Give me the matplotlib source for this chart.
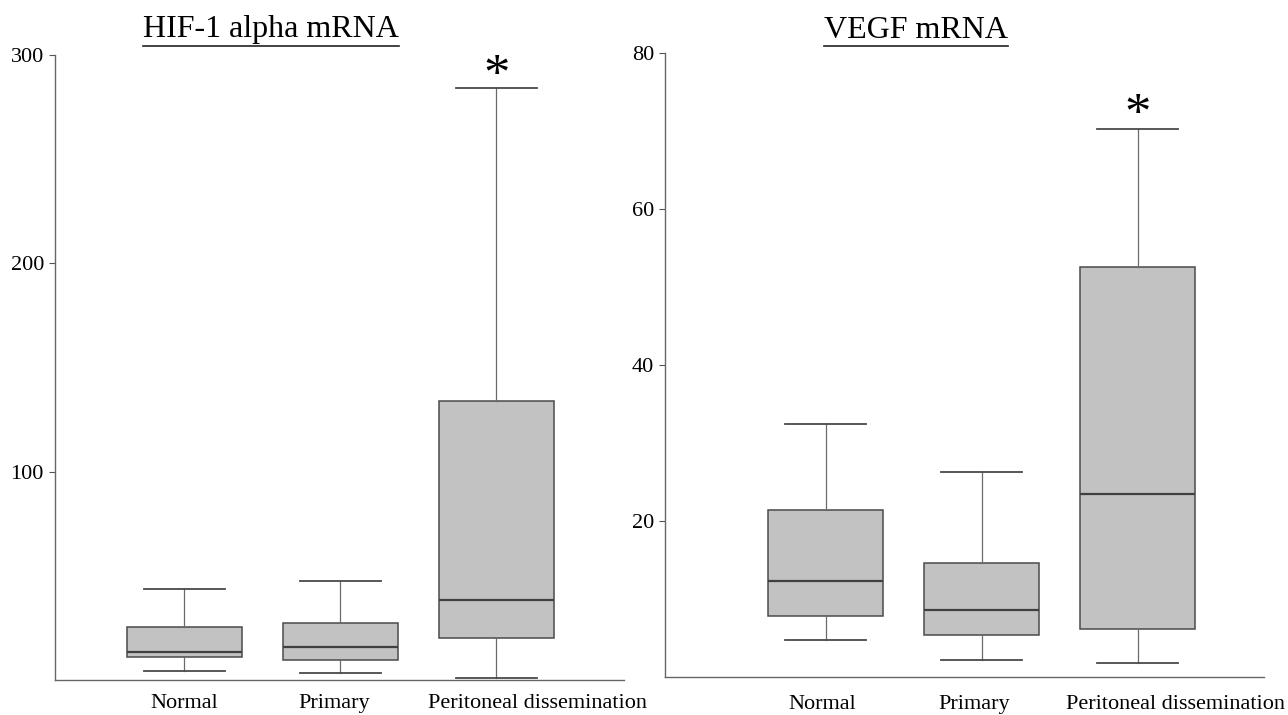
import matplotlib.pyplot as plt
from matplotlib.lines import Line2D
from matplotlib.transforms import ScaledTranslation

plt.rcParams['font.family'] = ['Liberation Serif', 'DejaVu Serif']

# groups and box statistics
groups = ['Normal', 'Primary', 'Peritoneal dissemination']

# HIF-1 alpha mRNA
hif_low = [4.3, 3.4, 1.0]
hif_q1 = [11.0, 9.6, 20.2]
hif_med = [13.4, 15.8, 38.4]
hif_q3 = [25.4, 27.4, 134.0]
hif_high = [43.7, 47.5, 284.0]

# VEGF mRNA
vegf_low = [4.7, 2.2, 1.8]
vegf_q1 = [7.8, 5.4, 6.2]
vegf_med = [12.3, 8.6, 23.5]
vegf_q3 = [21.4, 14.6, 52.6]
vegf_high = [32.4, 26.3, 70.3]

hif_ticks = [100, 200, 300]
vegf_ticks = [20, 40, 60, 80]

def make_stats(low, q1, med, q3, high):
    stats = []
    for i in range(len(groups)):
        stats.append({'whislo': low[i], 'q1': q1[i], 'med': med[i],
                      'q3': q3[i], 'whishi': high[i], 'fliers': []})
    return stats

def draw_panel(ax, stats, ymax, ticks, xlim, shifts, xpad):
    ax.bxp(stats, positions=[1, 2, 3], widths=0.74, capwidths=0.52,
           patch_artist=True, showfliers=False,
           boxprops=dict(facecolor='#c2c2c2', edgecolor='#4a4a4a', linewidth=1.1),
           medianprops=dict(color='#404040', linewidth=1.6),
           whiskerprops=dict(color='#6a6a6a', linewidth=0.9),
           capprops=dict(color='#4a4a4a', linewidth=1.3))
    ax.set_xlim(*xlim)
    ax.set_ylim(0, ymax)
    ax.set_yticks(ticks)
    ax.set_xticks([1, 2, 3])
    ax.set_xticklabels(groups)
    ax.tick_params(axis='x', length=0, pad=xpad, labelsize=16)
    ax.tick_params(axis='y', length=4, width=0.8, color='#555555', pad=4, labelsize=16)
    # the category labels are not quite centred under the boxes in the original
    for lab, dx in zip(ax.get_xticklabels(), shifts):
        lab.set_transform(lab.get_transform() + ScaledTranslation(dx / 100, 0, fig.dpi_scale_trans))
    for side in ['top', 'right']:
        ax.spines[side].set_visible(False)
    for side in ['left', 'bottom']:
        ax.spines[side].set_color('#666666')
        ax.spines[side].set_linewidth(1.0)

fig = plt.figure(figsize=(12.88, 7.15), dpi=100)

ax1 = fig.add_axes([0.0427, 0.049, 0.4418, 0.874])
draw_panel(ax1, make_stats(hif_low, hif_q1, hif_med, hif_q3, hif_high),
           300, hif_ticks, (0.17, 3.82), [0, -6, 41], 10)
ax1.text(3, 283, '*', ha='center', va='baseline', fontsize=38)

ax2 = fig.add_axes([0.5163, 0.0531, 0.465, 0.8727])
draw_panel(ax2, make_stats(vegf_low, vegf_q1, vegf_med, vegf_q3, vegf_high),
           80, vegf_ticks, (-0.03, 3.81), [-3, -7, 38], 13)
ax2.text(3, 70.2, '*', ha='center', va='baseline', fontsize=38)

# underlined titles
t1 = fig.text(271 / 1288, 1 - 30 / 715, 'HIF-1 alpha mRNA', ha='center', va='center', fontsize=23)
t2 = fig.text(916 / 1288, 1 - 30 / 715, 'VEGF mRNA', ha='center', va='center', fontsize=23)
fig.canvas.draw()
inv = fig.transFigure.inverted()
for t in [t1, t2]:
    bb = t.get_window_extent().transformed(inv)
    fig.add_artist(Line2D([bb.x0, bb.x1], [bb.y0 - 0.002, bb.y0 - 0.002],
                          transform=fig.transFigure, color='#222222', linewidth=1.2))

fig.savefig('out.png', dpi=100)
